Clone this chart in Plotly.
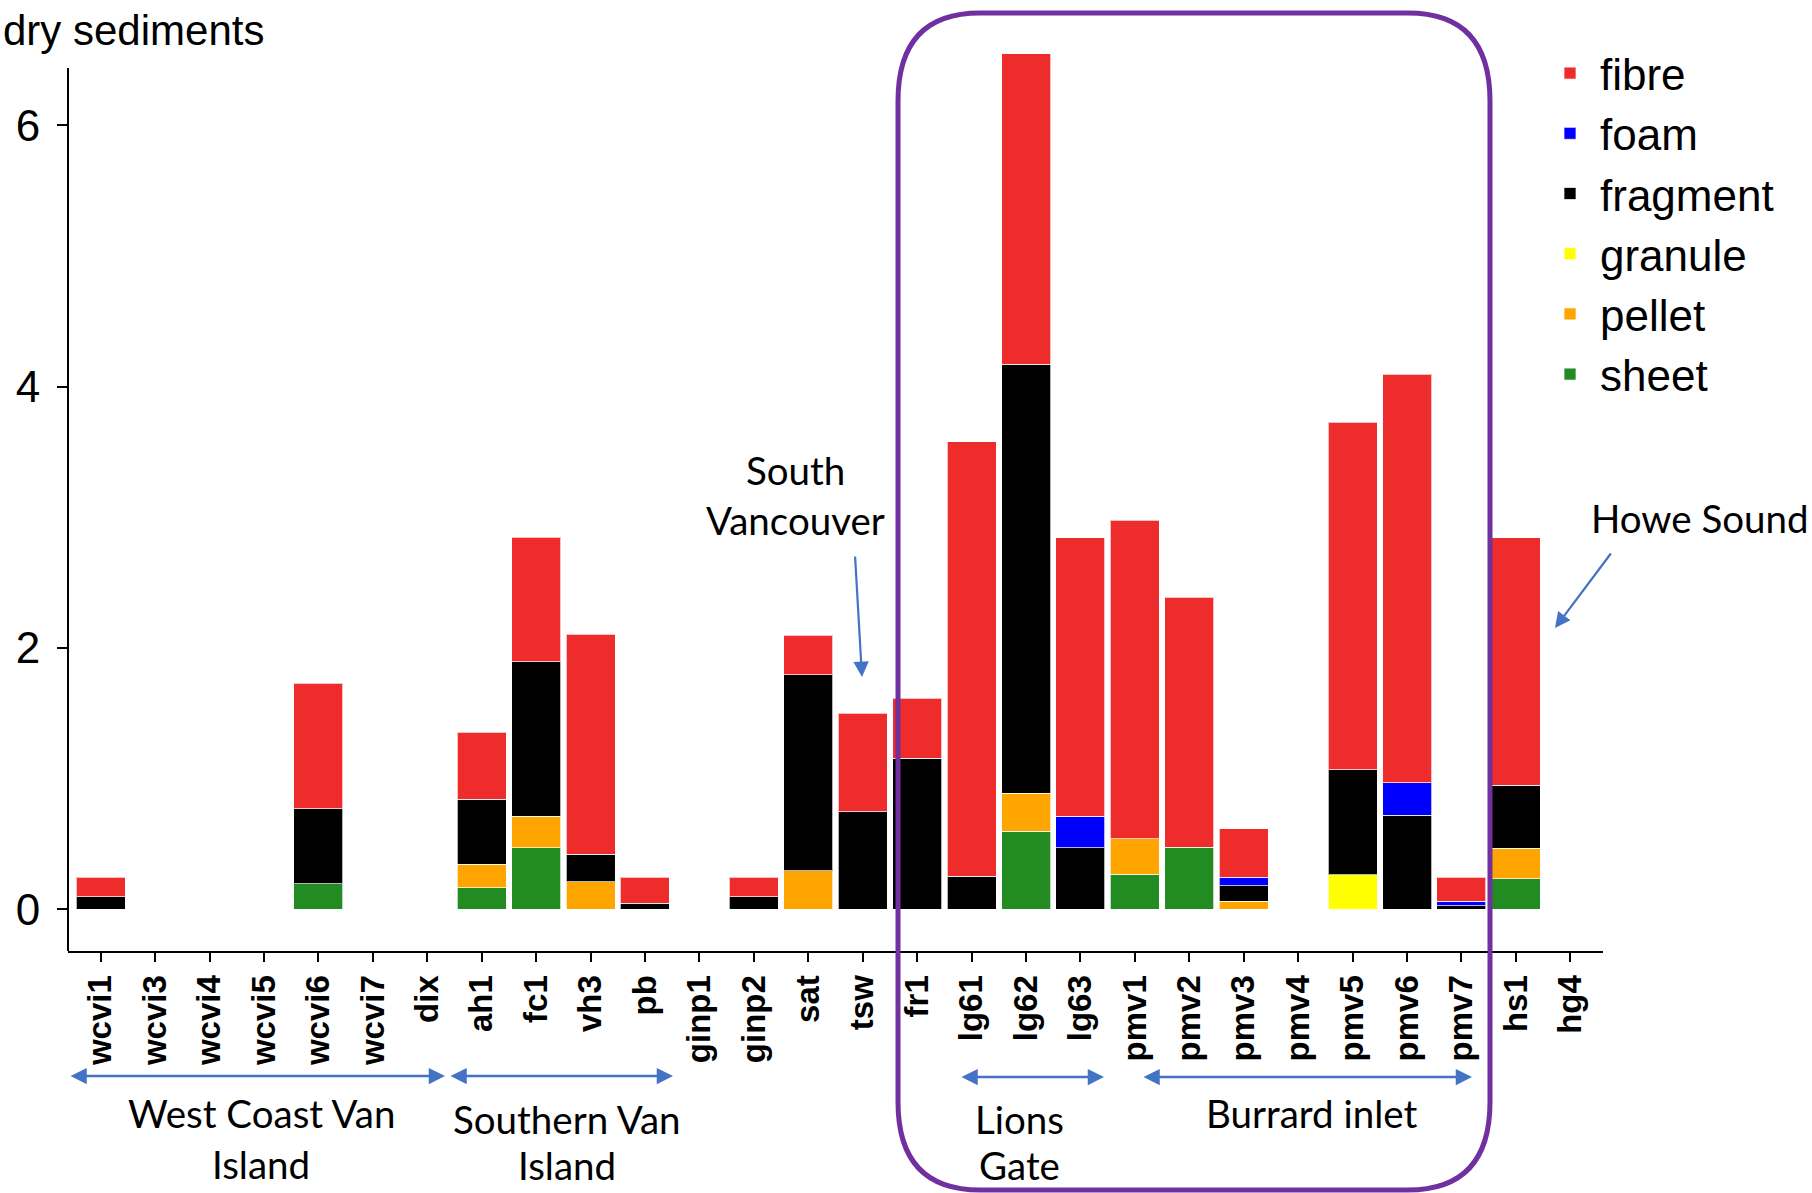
import plotly.graph_objects as go

# ---------------- data ----------------
sites = ["wcvi1", "wcvi3", "wcvi4", "wcvi5", "wcvi6", "wcvi7", "dix",
         "ah1", "fc1", "vh3", "pb", "ginp1", "ginp2", "sat", "tsw",
         "fr1", "lg61", "lg62", "lg63", "pmv1", "pmv2", "pmv3", "pmv4",
         "pmv5", "pmv6", "pmv7", "hs1", "hg4"]

fibre    = [0.148, 0, 0, 0, 0.962, 0, 0, 0.513, 0.951, 1.684, 0.197, 0, 0.148, 0.301, 0.753,
            0.460, 3.325, 2.373, 2.132, 2.439, 1.912, 0.372, 0, 2.659, 3.127, 0.184, 1.895, 0]
foam     = [0, 0, 0, 0, 0, 0, 0, 0, 0, 0, 0, 0, 0, 0, 0,
            0, 0, 0, 0.240, 0, 0, 0.064, 0, 0, 0.248, 0.033, 0, 0]
fragment = [0.097, 0, 0, 0, 0.574, 0, 0, 0.500, 1.181, 0.209, 0.048, 0, 0.097, 1.500, 0.747,
            1.155, 0.255, 3.283, 0.472, 0, 0, 0.120, 0, 0.803, 0.719, 0.028, 0.480, 0]
granule  = [0, 0, 0, 0, 0, 0, 0, 0, 0, 0, 0, 0, 0, 0, 0,
            0, 0, 0, 0, 0, 0, 0, 0, 0.265, 0, 0, 0, 0]
pellet   = [0, 0, 0, 0, 0, 0, 0, 0.179, 0.244, 0.211, 0, 0, 0, 0.296, 0,
            0, 0, 0.291, 0, 0.272, 0, 0.061, 0, 0, 0, 0, 0.235, 0]
sheet    = [0, 0, 0, 0, 0.194, 0, 0, 0.165, 0.470, 0, 0, 0, 0, 0, 0,
            0, 0, 0.599, 0, 0.268, 0.475, 0, 0, 0, 0, 0, 0.234, 0]

types  = ["fibre", "foam", "fragment", "granule", "pellet", "sheet"]
series = [fibre, foam, fragment, granule, pellet, sheet]
colors = ["#EE2C2C", "#0000FF", "#000000", "#FFFF00", "#FFA500", "#228B22"]

y_ticks = [0, 2, 4, 6]
y_title = "dry sediments"

region_labels = [
    # (lines, center x px, first line y px, line step px)
    (["West Coast Van", "Island"], 261, 1113, 51),
    (["Southern Van", "Island"], 567, 1119, 46),
    (["Lions", "Gate"], 1019, 1119, 46),
    (["Burrard inlet"], 1311, 1113, 0),
    (["South", "Vancouver"], 795, 470, 50),
    (["Howe Sound"], 1700, 518, 0),
]

# ---------------- layout geometry (pixels) ----------------
W, H = 1812, 1193
L, R, T, B = 68, 1603, 9, 951


def pxx(px):
    return (px - L) / (R - L)


def pxy(py):
    return (B - py) / (B - T)


fig = go.Figure()
# stack bottom-up: sheet first, fibre last
for name, vals, col in reversed(list(zip(types, series, colors))):
    fig.add_trace(go.Bar(
        x=sites, y=[v if v else None for v in vals], name=name,
        marker=dict(color=col, line=dict(color="rgba(255,255,255,0.7)", width=1)),
    ))

shapes = []
# y axis line (does not span full panel height in the reference)
shapes.append(dict(type="line", xref="paper", yref="paper",
                   x0=0, x1=0, y0=0, y1=pxy(68),
                   line=dict(color="black", width=2), layer="above"))

# purple rounded rectangle
x0, x1, y0, y1 = 898, 1490, 13, 1190
rx, ry = 82, 88
pts = [
    ("M", (x0 + rx, y0)), ("L", (x1 - rx, y0)),
    ("Q", (x1, y0), (x1, y0 + ry)), ("L", (x1, y1 - ry)),
    ("Q", (x1, y1), (x1 - rx, y1)), ("L", (x0 + rx, y1)),
    ("Q", (x0, y1), (x0, y1 - ry)), ("L", (x0, y0 + ry)),
    ("Q", (x0, y0), (x0 + rx, y0)),
]
path = ""
for item in pts:
    cmd = item[0]
    coords = " ".join(f"{pxx(p[0]):.5f},{pxy(p[1]):.5f}" for p in item[1:])
    path += f"{cmd} {coords} "
path += "Z"
shapes.append(dict(type="path", xref="paper", yref="paper", path=path,
                   line=dict(color="#7030A0", width=5), layer="above"))

annotations = []
# y title
annotations.append(dict(xref="paper", yref="paper", x=pxx(1), y=pxy(31),
                        xanchor="left", yanchor="middle", showarrow=False,
                        text=y_title,
                        font=dict(family="Liberation Sans, Arial", size=42, color="black")))

# region labels
for lines, cx, cy, step in region_labels:
    for i, line in enumerate(lines):
        annotations.append(dict(xref="paper", yref="paper", x=pxx(cx), y=pxy(cy + i * step),
                                xanchor="center", yanchor="middle", showarrow=False,
                                text=line,
                                font=dict(family="Lato, Open Sans", size=38.5, color="black")))

arrow_col = "#4472C4"
# double arrows (start px, end px, y px)
for xs, xe, yy in [(69, 445, 1076), (449, 673, 1076), (960, 1104, 1077), (1142, 1472, 1077)]:
    annotations.append(dict(xref="paper", yref="paper", x=pxx(xe), y=pxy(yy),
                            axref="pixel", ayref="pixel", ax=xs - xe, ay=0,
                            showarrow=True, arrowside="end+start", arrowhead=2,
                            arrowsize=1.3, arrowwidth=2.5, arrowcolor=arrow_col, text=""))
# single arrows (tail px -> head px)
for (tx, ty), (hx, hy) in [((855, 555), (862, 677)), ((1612, 552), (1555, 628))]:
    annotations.append(dict(xref="paper", yref="paper", x=pxx(hx), y=pxy(hy),
                            axref="pixel", ayref="pixel", ax=tx - hx, ay=ty - hy,
                            showarrow=True, arrowhead=2, arrowsize=1.4,
                            arrowwidth=2.2, arrowcolor=arrow_col, text=""))

fig.update_layout(
    width=W, height=H, autosize=False,
    margin=dict(l=L, r=W - R, t=T, b=H - B, pad=0),
    paper_bgcolor="white", plot_bgcolor="white",
    barmode="stack", bargap=0.1,
    shapes=shapes, annotations=annotations,
    showlegend=True,
    legend=dict(x=pxx(1540), y=pxy(38), xanchor="left", yanchor="top",
                traceorder="reversed", itemwidth=50,
                font=dict(family="Liberation Sans, Arial", size=44, color="black"),
                bgcolor="rgba(0,0,0,0)"),
    xaxis=dict(
        type="category", range=[-0.6, len(sites) - 0.4],
        showline=True, linecolor="black", linewidth=2, mirror=False,
        ticks="outside", ticklen=9, tickwidth=2, tickcolor="black",
        tickangle=-90, showgrid=False, zeroline=False,
        tickfont=dict(family="Liberation Sans, Arial", size=33, color="black", weight=700),
    ),
    yaxis=dict(
        range=[-0.319, 6.89], tickvals=y_ticks, ticktext=[str(v) for v in y_ticks],
        showline=False, showgrid=False, zeroline=False,
        ticks="outside", ticklen=10, tickwidth=2, tickcolor="black",
        ticklabelstandoff=8,
        tickfont=dict(family="Liberation Sans, Arial", size=44, color="black"),
    ),
)

fig.write_html(
    "out.html",
    config={"displayModeBar": False},
    post_script="document.body.style.margin='0';document.body.style.padding='0';"
                "document.documentElement.style.overflow='hidden';",
)
